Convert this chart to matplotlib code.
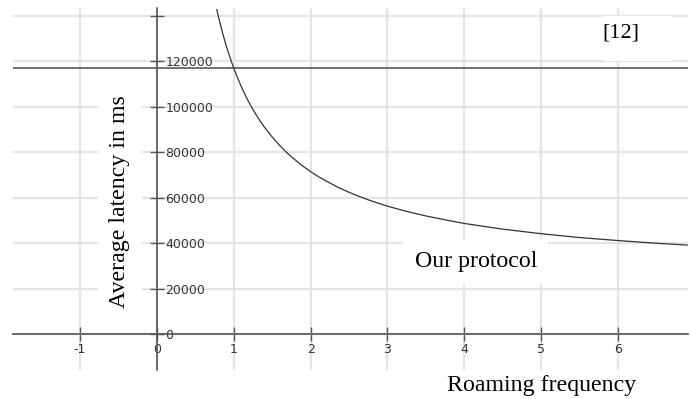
import matplotlib
matplotlib.use("Agg")
import matplotlib.pyplot as plt
from matplotlib.patches import Rectangle
from matplotlib.ticker import FixedLocator, FixedFormatter

# curve (roaming frequency -> average latency)
freq = [0.78, 0.8, 0.82, 0.85, 0.87, 0.9, 0.92, 0.95, 0.97, 1.0, 1.05, 1.1,
        1.15, 1.2, 1.25, 1.3, 1.35, 1.4, 1.5, 1.6, 1.7, 1.8, 1.9, 2.0, 2.1,
        2.2, 2.35, 2.5, 2.6, 2.75, 2.9, 3.0, 3.25, 3.5, 3.75, 4.0, 4.5, 5.0,
        5.5, 6.0, 6.5, 6.9]
latency = [142700, 139700, 137000, 133000, 130600, 127000, 124900, 121800,
           119800, 117000, 112700, 108700, 105100, 101800, 98800, 96000,
           93400, 91000, 86700, 82900, 79500, 76600, 73900, 71500, 69300,
           67400, 64700, 62400, 61000, 59100, 57400, 56300, 54000, 52000,
           50300, 48700, 46200, 44200, 42500, 41200, 40000, 39200]

# reference level from [12]
ref_latency = 116900

x_ticks = [-1, 0, 1, 2, 3, 4, 5, 6]
x_tick_labels = ["-1", "0", "1", "2", "3", "4", "5", "6"]
y_ticks = [0, 20000, 40000, 60000, 80000, 100000, 120000, 140000]
y_tick_labels = ["0", "20000", "40000", "60000", "80000", "100000", "120000", ""]

serif = "Liberation Serif"
axis_col = "#555555"

fig = plt.figure(figsize=(6.91, 3.99), dpi=100)
ax = fig.add_axes([13/691, 29/399, 675/691, 362/399])
ax.set_xlim(-1.872, 6.91)
ax.set_ylim(-15700, 143400)

# grid
ax.set_axisbelow(True)
ax.grid(True, color="#e4e4e4", linewidth=1.6, zorder=0)

# spines through the origin
ax.spines["left"].set_visible(False)
ax.spines["top"].set_visible(False)
ax.spines["right"].set_position(("data", 0))
ax.spines["bottom"].set_position(("data", 0))
for s in ("right", "bottom"):
    ax.spines[s].set_color(axis_col)
    ax.spines[s].set_linewidth(1.2)
    ax.spines[s].set_zorder(5)

ax.yaxis.set_ticks_position("right")
ax.xaxis.set_ticks_position("bottom")
ax.xaxis.set_major_locator(FixedLocator(x_ticks))
ax.xaxis.set_major_formatter(FixedFormatter(x_tick_labels))
ax.yaxis.set_major_locator(FixedLocator(y_ticks))
ax.yaxis.set_major_formatter(FixedFormatter(y_tick_labels))
ax.tick_params(axis="both", direction="inout", length=9.4, width=1.0,
               color=axis_col, labelsize=9, labelcolor="#333333", pad=1.5)

# lines
ax.axhline(ref_latency, color="#666666", linewidth=1.3, zorder=4)
ax.plot(freq, latency, color="#333333", linewidth=0.9, zorder=6)

# white box behind the citation label
ax.add_patch(Rectangle((0.874, 0.854), 0.104, 0.124, transform=ax.transAxes,
                       facecolor="white", edgecolor="none", zorder=2))

# labels
ax.text(4.15, 31800, "Our protocol", family=serif, fontsize=17.2,
        ha="center", va="center", zorder=3,
        bbox=dict(facecolor="white", edgecolor="none", pad=8))
ax.text(6.04, 132400, "[12]", family=serif, fontsize=16,
        ha="center", va="center", zorder=3)
fig.text(120/691, 1 - 202/399, "Average latency in ms", family=serif,
         fontsize=17.2, rotation=90, ha="center", va="center", zorder=3,
         bbox=dict(facecolor="white", edgecolor="none", pad=8))
fig.text(542/691, 1 - 385/399, "Roaming frequency", family=serif,
         fontsize=17.2, ha="center", va="center")

fig.savefig("out.png", dpi=100)
